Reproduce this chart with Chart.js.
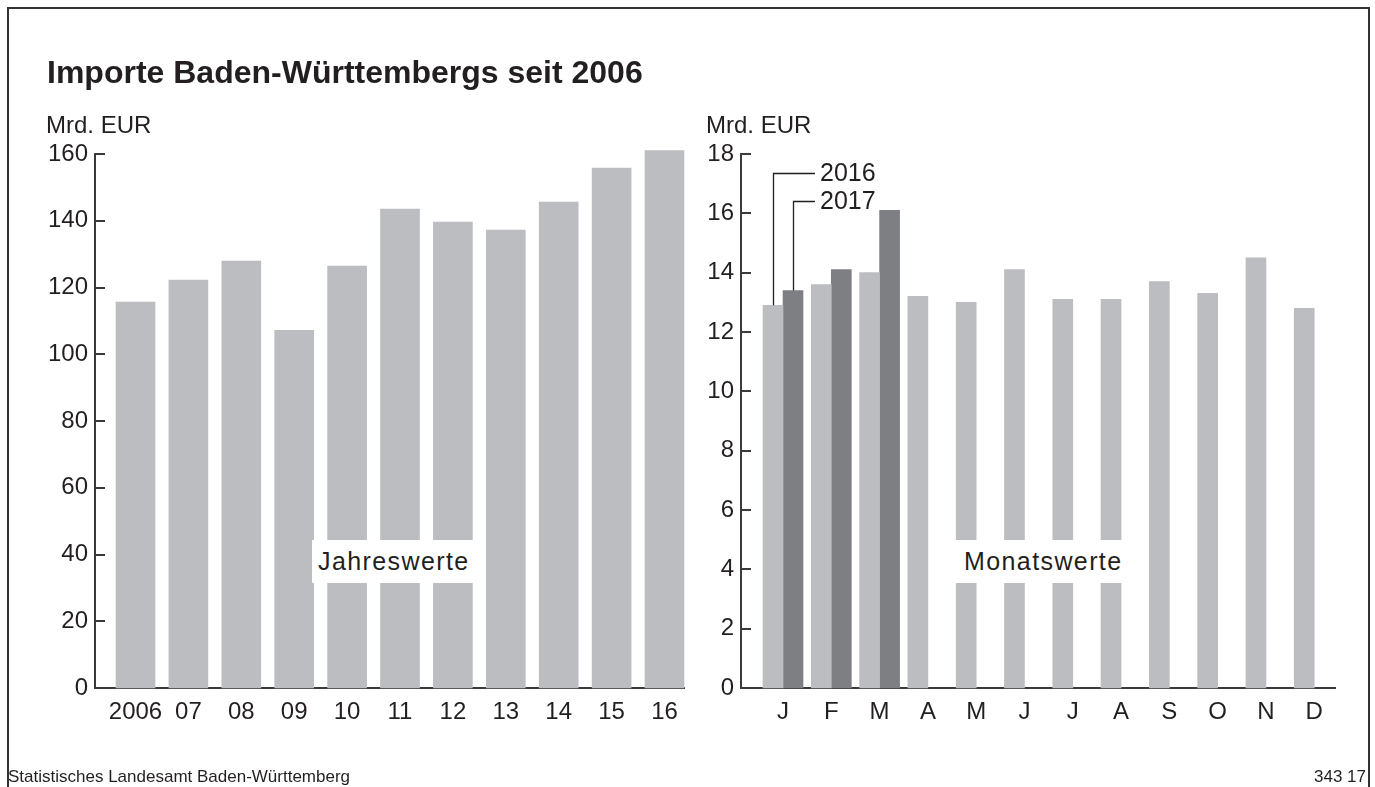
<!DOCTYPE html>
<html>
<head>
<meta charset="utf-8">
<script src="https://cdn.jsdelivr.net/npm/chart.js@4.4.0/dist/chart.umd.min.js"></script>
<style>
  body { margin: 0; width: 1375px; height: 787px; overflow: hidden; background: #fff;
         font-family: "Liberation Sans", Arial, sans-serif; color: #231f20; position: relative; }
  #frame { position: absolute; left: 7px; top: 7px; width: 1359px; height: 800px;
           border: 2px solid #333; border-bottom: none; }
  canvas { position: absolute; top: 0; }
  #c1 { left: 0; }
  #c2 { left: 700px; }
  .txt { position: absolute; white-space: nowrap; z-index: 2; }
  #title { left: 47px; top: 56px; font-size: 32px; line-height: 32px; font-weight: bold; }
  .unit { top: 113px; font-size: 24px; line-height: 24px; }
  .box { background: #fff; height: 43px; line-height: 43px; font-size: 25px; letter-spacing: 1.4px; }
  #foot { left: 8px; top: 768px; font-size: 17px; line-height: 17px; }
  #num { right: 9px; top: 768px; font-size: 17px; line-height: 17px; }
</style>
</head>
<body>
<div id="frame"></div>
<canvas id="c1" width="700" height="787"></canvas>
<canvas id="c2" width="675" height="787"></canvas>
<div id="title" class="txt">Importe Baden-Württembergs seit 2006</div>
<div class="txt unit" style="left:46px">Mrd. EUR</div>
<div class="txt unit" style="left:706px">Mrd. EUR</div>
<div class="txt box" style="left:312px;top:540px;width:156px;padding-left:6px">Jahreswerte</div>
<div class="txt box" style="left:950px;top:540px;width:178px;padding-left:14px">Monatswerte</div>
<div id="foot" class="txt">Statistisches Landesamt Baden-Württemberg</div>
<div id="num" class="txt">343 17</div>
<script>
// Jahreswerte (Mrd. EUR)
const yearLabels = ['2006', '07', '08', '09', '10', '11', '12', '13', '14', '15', '16'];
const yearValues = [115.6, 122.2, 127.9, 107.2, 126.4, 143.5, 139.6, 137.2, 145.6, 155.8, 161.0];

// Monatswerte (Mrd. EUR)
const monthLabels = ['J', 'F', 'M', 'A', 'M', 'J', 'J', 'A', 'S', 'O', 'N', 'D'];
const seriesNames = ['2016', '2017'];
const months2016 = [12.9, 13.6, 14.0, 13.2, 13.0, 14.1, 13.1, 13.1, 13.7, 13.3, 14.5, 12.8];
const months2017 = [13.4, 14.1, 16.1, null, null, null, null, null, null, null, null, null];

// Achsen
const yearAxisMax = 160, yearAxisStep = 20;
const monthAxisMax = 18, monthAxisStep = 2;

const ink = '#231f20';
const axisColor = '#3a3a3a';
const light = '#bcbdc1';
const dark = '#7e7f83';
const tickFont = { family: 'Liberation Sans', size: 24 };

// kurze Striche nach innen an der y-Achse
const innerTicks = {
  id: 'innerTicks',
  afterDraw(chart) {
    const s = chart.scales.y;
    const ctx = chart.ctx;
    ctx.save();
    ctx.strokeStyle = axisColor;
    ctx.lineWidth = 2;
    s.ticks.forEach((t, i) => {
      const y = Math.round(s.getPixelForTick(i));
      ctx.beginPath();
      ctx.moveTo(s.right, y);
      ctx.lineTo(s.right + 10, y);
      ctx.stroke();
    });
    ctx.restore();
  }
};

// Beschriftung 2016 / 2017 mit Hinweislinien
const leaders = {
  id: 'leaders',
  afterDatasetsDraw(chart) {
    const ctx = chart.ctx;
    const ys = chart.scales.y;
    const levels = [17.35, 16.4];
    ctx.save();
    ctx.strokeStyle = ink;
    ctx.lineWidth = 1.3;
    ctx.fillStyle = ink;
    ctx.font = '25px "Liberation Sans"';
    ctx.textBaseline = 'middle';
    [0, 1].forEach(d => {
      const bar = chart.getDatasetMeta(d).data[0];
      const ly = Math.round(ys.getPixelForValue(levels[d])) + 0.5;
      const endX = chart.getDatasetMeta(0).data[0].x + 42;
      ctx.beginPath();
      ctx.moveTo(Math.round(bar.x) + 0.5, bar.y);
      ctx.lineTo(Math.round(bar.x) + 0.5, ly);
      ctx.lineTo(endX, ly);
      ctx.stroke();
      ctx.fillText(seriesNames[d], endX + 5, ly + 1);
    });
    ctx.restore();
  }
};

function makeOptions(labels, yMax, yStep, xMin, xMax, yWidth, xHeight, padRight) {
  return {
    responsive: false,
    animation: false,
    layout: { padding: { top: 154, right: padRight, bottom: 0, left: 0 } },
    plugins: { legend: { display: false }, tooltip: { enabled: false } },
    scales: {
      x: {
        type: 'linear',
        offset: false,
        min: xMin,
        max: xMax,
        grid: { display: false, drawTicks: false, offset: false },
        border: { display: true, color: axisColor, width: 2 },
        ticks: {
          stepSize: 1,
          includeBounds: false,
          autoSkip: false,
          maxRotation: 0,
          padding: 10,
          color: ink,
          font: tickFont,
          callback: v => (Number.isInteger(v) && labels[v] !== undefined) ? labels[v] : ''
        },
        afterFit: s => { s.height = xHeight; }
      },
      y: {
        min: 0,
        max: yMax,
        grid: { display: false, drawTicks: false },
        border: { display: true, color: axisColor, width: 2 },
        ticks: { stepSize: yStep, padding: 7, color: ink, font: tickFont },
        afterFit: s => { s.width = yWidth; }
      }
    }
  };
}

new Chart(document.getElementById('c1'), {
  type: 'bar',
  data: {
    datasets: [{
      data: yearValues.map((v, i) => ({ x: i, y: v })),
      backgroundColor: light,
      barThickness: 39,
      clip: false
    }]
  },
  options: makeOptions(yearLabels, yearAxisMax, yearAxisStep, -0.766, 10.369, 95, 99, 16),
  plugins: [innerTicks]
});

new Chart(document.getElementById('c2'), {
  type: 'bar',
  data: {
    datasets: [
      { label: seriesNames[0], data: months2016.map((v, i) => ({ x: i, y: v })), backgroundColor: light, barThickness: 20, clip: false },
      { label: seriesNames[1], data: months2017.map((v, i) => ({ x: i, y: v })), backgroundColor: dark, barThickness: 20, clip: false }
    ]
  },
  options: makeOptions(monthLabels, monthAxisMax, monthAxisStep, -0.87, 11.43, 41, 99, 40),
  plugins: [innerTicks, leaders]
});
</script>
</body>
</html>
